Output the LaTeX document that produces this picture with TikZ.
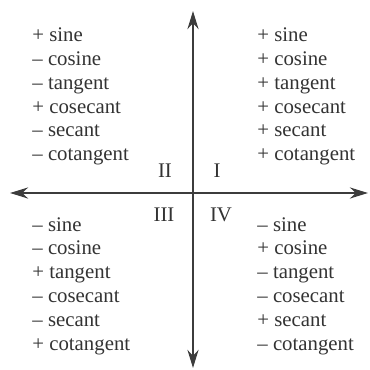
\documentclass[tikz,border=0pt]{standalone}
\usepackage{fontspec}
\setmainfont{Liberation Serif}
\usetikzlibrary{arrows.meta}
\definecolor{axisgray}{HTML}{3C3C3C}
\definecolor{textgray}{HTML}{333333}
\begin{document}
\begin{tikzpicture}[x=0.5pt, y=-0.5pt,
    signs/.style={anchor=west, align=left, inner sep=0pt, text=textgray, font=\fontsize{10.4}{11.9}\selectfont},
    quad/.style={inner sep=0pt, text=textgray, font=\fontsize{10.4}{12}\selectfont},
    axis/.style={{Stealth[length=9pt,width=5.5pt]}-{Stealth[length=9pt,width=5.5pt]}, line width=1.3pt, draw=axisgray}]
    \useasboundingbox (0,0) rectangle (370,370);
    % Achsen
    \coordinate (W) at (10,193);
    \coordinate (E) at (368,193);
    \coordinate (N) at (193,11);
    \coordinate (S) at (193,368);
    \draw[axis] (W) -- (E);
    \draw[axis] (N) -- (S);

    % Quadranten
    \node[quad] (qI) at (217,171) {I};
    \node[quad] (qII) at (165,171) {II};
    \node[quad] (qIII) at (164,215) {III};
    \node[quad] (qIV) at (221,215) {IV};

    % Vorzeichen
    \node[signs] (signsI) at (257,96.5) {+ sine\\+ cosine\\+ tangent\\+ cosecant\\+ secant\\+ cotangent};
    \node[signs] (signsII) at (32,96.5) {+ sine\\-- cosine\\-- tangent\\+ cosecant\\-- secant\\-- cotangent};
    \node[signs] (signsIII) at (32,286) {-- sine\\-- cosine\\+ tangent\\-- cosecant\\-- secant\\+ cotangent};
    \node[signs] (signsIV) at (257,286) {-- sine\\+ cosine\\-- tangent\\-- cosecant\\+ secant\\-- cotangent};
\end{tikzpicture}
\end{document}
